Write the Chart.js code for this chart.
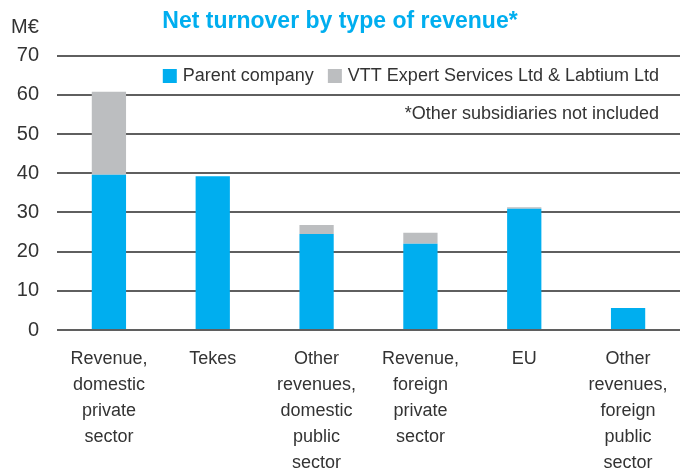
<!DOCTYPE html>
<html lang="en">
<head>
  <meta charset="UTF-8">
  <script src="https://cdn.jsdelivr.net/npm/chart.js"></script>
  <title>Net turnover</title>
  <style>
    html, body { margin: 0; padding: 0; background: #fff; }
    #wrap { width: 680px; height: 472px; }
  </style>
</head>
<body>
  <div id="wrap">
    <canvas id="myChart" width="680" height="472"></canvas>
  </div>

  <script>
    // data (M€)
    const categories = [
      ['Revenue,', 'domestic', 'private', 'sector'],
      ['Tekes'],
      ['Other', 'revenues,', 'domestic', 'public', 'sector'],
      ['Revenue,', 'foreign', 'private', 'sector'],
      ['EU'],
      ['Other', 'revenues,', 'foreign', 'public', 'sector']
    ];
    const parentCompany = [39.6, 39.2, 24.5, 22.0, 30.9, 5.6];
    const subsidiaries = [21.2, 0, 2.3, 2.8, 0.4, 0];
    const yTicks = [0, 10, 20, 30, 40, 50, 60, 70];

    const FONT = '"Liberation Sans", Arial, Helvetica, sans-serif';
    const TXT = '#333333';

    // M€ unit label, legend inside the plot, footnote
    const extraText = {
      id: 'extraText',
      afterDraw(chart) {
        const ctx = chart.ctx;
        ctx.save();
        ctx.fillStyle = TXT;
        ctx.font = '20px ' + FONT;
        ctx.textAlign = 'left';
        ctx.textBaseline = 'middle';
        ctx.fillText('M€', 11, 27);

        // legend, right aligned
        ctx.font = '18px ' + FONT;
        const sets = chart.data.datasets;
        let total = 0;
        sets.forEach((ds, i) => {
          total += 14 + 6 + ctx.measureText(ds.label).width + (i < sets.length - 1 ? 14 : 0);
        });
        let x = 659 - total;
        const y = 76;
        sets.forEach(ds => {
          ctx.fillStyle = ds.backgroundColor;
          ctx.fillRect(x, y - 7, 14, 14);
          x += 20;
          ctx.fillStyle = TXT;
          ctx.textAlign = 'left';
          ctx.fillText(ds.label, x, y);
          x += ctx.measureText(ds.label).width + 14;
        });

        ctx.textAlign = 'right';
        ctx.fillText('*Other subsidiaries not included', 659, 114);
        ctx.restore();
      }
    };

    new Chart(document.getElementById('myChart'), {
      type: 'bar',
      data: {
        labels: categories,
        datasets: [{
          label: 'Parent company',
          backgroundColor: '#00AEEF',
          data: parentCompany,
          categoryPercentage: 1,
          barPercentage: 0.33
        }, {
          label: 'VTT Expert Services Ltd & Labtium Ltd',
          backgroundColor: '#BCBEC0',
          data: subsidiaries,
          categoryPercentage: 1,
          barPercentage: 0.33
        }]
      },
      options: {
        responsive: false,
        animation: false,
        layout: { padding: 0 },
        plugins: {
          title: {
            display: true,
            text: 'Net turnover by type of revenue*',
            color: '#00AEEF',
            font: { family: FONT, size: 23, weight: 'bold' },
            padding: { top: 8, bottom: 20 }
          },
          legend: { display: false },
          tooltip: { enabled: false }
        },
        scales: {
          x: {
            stacked: true,
            grid: { display: false },
            border: { display: false },
            ticks: {
              color: TXT,
              font: { family: FONT, size: 18, lineHeight: 1.45 },
              autoSkip: false,
              maxRotation: 0,
              padding: 8
            },
            afterFit(scale) { scale.height = 142; }
          },
          y: {
            stacked: true,
            min: 0,
            max: 70,
            afterBuildTicks(scale) { scale.ticks = yTicks.map(v => ({ value: v })); },
            grid: { color: '#5f5f5f', lineWidth: 2, drawTicks: false },
            border: { display: false },
            ticks: {
              color: TXT,
              font: { family: FONT, size: 20 },
              padding: 18
            },
            afterFit(scale) { scale.width = 57; }
          }
        }
      },
      plugins: [extraText]
    });
  </script>
</body>
</html>
